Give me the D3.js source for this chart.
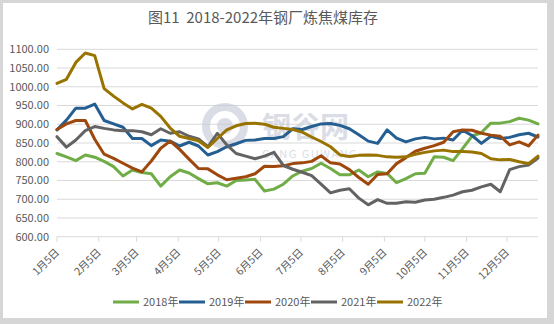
<!DOCTYPE html>
<html lang="zh">
<head>
    <meta charset="UTF-8">
    <title>钢厂炼焦煤库存</title>
    <style>
        body { margin: 0; background: #fff; }
        text { font-family: "Noto Sans CJK SC", "Noto Sans", sans-serif; fill: #595959; }
    </style>
</head>
<body>

    <svg id="svg" width="554" height="324"></svg>

    <script src="https://d3js.org/d3.v7.min.js"></script>
    <script>
        // weekly readings, starting 1月5日
        const years = ['2018年', '2019年', '2020年', '2021年', '2022年']
        const v2018 = [822, 813, 803, 818, 812, 801, 787, 762, 778, 771, 768, 735, 760, 778, 770, 755, 741, 744, 735, 750,
            751, 753, 722, 727, 740, 762, 775, 782, 796, 782, 765, 765, 778, 760, 773, 769, 744, 755, 768, 769,
            813, 812, 803, 835, 868, 878, 903, 903, 907, 916, 911, 901]
        const v2019 = [885, 911, 943, 943, 954, 910, 901, 892, 862, 862, 843, 858, 855, 842, 852, 842, 818, 827, 840, 848,
            857, 858, 862, 862, 867, 888, 886, 894, 901, 902, 897, 888, 872, 855, 849, 885, 863, 853, 861, 865,
            861, 863, 858, 884, 870, 849, 868, 862, 865, 872, 876, 866]
        const v2020 = [886, 901, 910, 910, 860, 820, 809, 796, 783, 773, 802, 836, 855, 833, 807, 782, 781, 765, 752, 756,
            760, 768, 788, 787, 789, 795, 797, 801, 816, 797, 794, 779, 758, 740, 766, 768, 795, 811, 828, 836,
            843, 852, 880, 885, 884, 876, 871, 868, 845, 853, 842, 871]
        const v2021 = [867, 839, 858, 883, 894, 889, 885, 883, 883, 880, 872, 888, 876, 880, 868, 861, 840, 876, 845, 822,
            815, 808, 815, 825, 790, 780, 772, 763, 740, 717, 724, 728, 703, 685, 699, 689, 689, 693, 692, 698,
            700, 705, 711, 720, 724, 733, 740, 720, 779, 787, 791, 810]
        const v2022 = [1009, 1020, 1065, 1090, 1083, 995, 975, 957, 941, 953, 943, 921, 890, 868, 862, 856, 838, 862, 885, 896,
            902, 903, 900, 892, 889, 886, 879, 866, 854, 840, 818, 814, 817, 818, 817, 813, 812, 813, 820, 825,
            829, 831, 827, 827, 826, 822, 808, 805, 806, 800, 795, 815]
        const series = [v2018, v2019, v2020, v2021, v2022]
        const colors = ['#70ad47', '#255e91', '#9e480e', '#636363', '#997300']
        const yTicks = [600, 650, 700, 750, 800, 850, 900, 950, 1000, 1050, 1100]
        const monthTicks = d3.range(12).map(m => new Date(2021, m, 5))

        const start = new Date(2021, 0, 5)
        const dates = v2018.map((d, i) => d3.timeDay.offset(start, i * 7))

        const svg = d3.select('#svg')

        // grey frame around the white card
        svg.append('rect').attr('width', 554).attr('height', 324).attr('fill', '#d6d6d6')
        svg.append('rect').attr('x', 3).attr('y', 3).attr('width', 544).attr('height', 315).attr('fill', '#fff')

        const xScale = d3.scaleTime()
            .domain([start, new Date(2021, 11, 5)])
            .range([57, 507])
        const yScale = d3.scaleLinear()
            .domain([600, 1100])
            .range([236.7, 49.3])
        const xEnd = xScale(dates[dates.length - 1])

        // title
        svg.append('text')
            .attr('x', 263).attr('y', 23)
            .attr('text-anchor', 'middle')
            .style('font-size', '15px')
            .style('white-space', 'pre')
            .text('图11  2018-2022年钢厂炼焦煤库存')

        // gridlines + y labels
        svg.append('g').selectAll('line')
            .data(yTicks)
            .enter()
            .append('line')
            .attr('x1', 57).attr('x2', xEnd)
            .attr('y1', d => yScale(d)).attr('y2', d => yScale(d))
            .attr('stroke', '#d9d9d9')
            .attr('stroke-width', 1)

        svg.append('g').selectAll('text')
            .data(yTicks)
            .enter()
            .append('text')
            .attr('x', 49)
            .attr('y', d => yScale(d))
            .attr('dy', '0.35em')
            .attr('text-anchor', 'end')
            .style('font-size', '11px')
            .text(d => d.toFixed(2))

        // x axis ticks + rotated labels
        const xAxis = svg.append('g')
        xAxis.selectAll('line')
            .data(monthTicks)
            .enter()
            .append('line')
            .attr('x1', d => xScale(d)).attr('x2', d => xScale(d))
            .attr('y1', yScale(600)).attr('y2', yScale(600) + 5)
            .attr('stroke', '#d9d9d9')
        xAxis.selectAll('text')
            .data(monthTicks)
            .enter()
            .append('text')
            .attr('transform', d => `translate(${xScale(d) + 3},253) rotate(-45)`)
            .attr('text-anchor', 'end')
            .style('font-size', '10.5px')
            .text(d => `${d.getMonth() + 1}月5日`)

        // faint watermark
        const wm = svg.append('g').attr('opacity', 0.6)
        wm.append('circle').attr('cx', 225).attr('cy', 126).attr('r', 19)
            .attr('fill', 'none').attr('stroke', '#c3c8d4').attr('stroke-width', 8)
        wm.append('circle').attr('cx', 225).attr('cy', 126).attr('r', 8)
            .attr('fill', '#c3c8d4')
        wm.append('text').attr('x', 262).attr('y', 138)
            .style('font-size', '29px').style('font-weight', 'bold').style('fill', '#c3c8d4')
            .text('钢谷网')
        wm.append('text').attr('x', 262).attr('y', 158)
            .style('font-size', '11px').style('letter-spacing', '1.5px').style('fill', '#c3c8d4')
            .text('GANG GUWANG')

        // lines
        const line = d3.line()
            .x((d, i) => xScale(dates[i]))
            .y(d => yScale(d))

        svg.append('g').selectAll('path')
            .data(series)
            .enter()
            .append('path')
            .attr('d', d => line(d))
            .attr('fill', 'none')
            .attr('stroke', (d, i) => colors[i])
            .attr('stroke-width', 3)
            .attr('stroke-linejoin', 'round')
            .attr('stroke-linecap', 'round')

        // legend
        const legend = svg.append('g').selectAll('g')
            .data(years)
            .enter()
            .append('g')
            .attr('transform', (d, i) => `translate(${113 + i * 66},302)`)
        legend.append('line')
            .attr('x1', 0).attr('x2', 26)
            .attr('stroke', (d, i) => colors[i])
            .attr('stroke-width', 3)
        legend.append('text')
            .attr('x', 30).attr('dy', '0.35em')
            .style('font-size', '11px')
            .text(d => d)
    </script>
</body>
</html>
